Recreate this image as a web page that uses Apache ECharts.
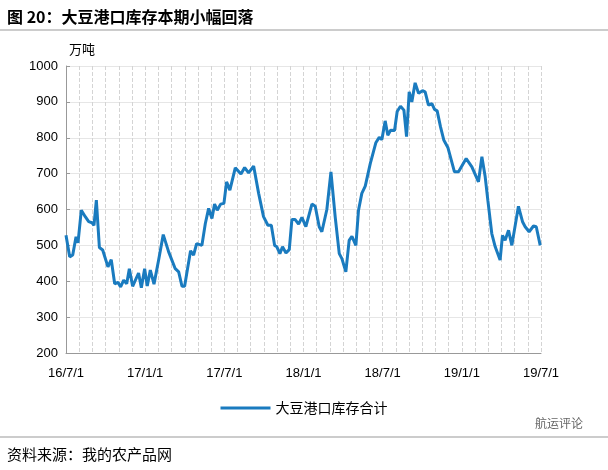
<!DOCTYPE html><html><head><meta charset="utf-8"><script src="https://cdn.jsdelivr.net/npm/echarts@6/dist/echarts.min.js"></script></head><body style="margin:0;background:#fff"><div id="c" style="width:608px;height:470px"></div><script>
const monthOffsets=[0,.28,.51,.76,.91,1.16,1.46,1.72,1.97,2.12,2.3,2.53,2.78,3.18,3.43,3.69,3.94,4.14,4.37,4.6,4.8,5.05,5.5,5.71,5.96,6.16,6.39,6.67,7.02,7.37,7.78,8.28,8.54,8.79,8.99,9.44,9.67,9.9,10.3,10.56,10.81,11.06,11.26,11.46,11.72,11.97,12.17,12.42,12.83,13.26,13.54,13.84,14.22,14.6,14.97,15.3,15.56,15.81,15.98,16.21,16.41,16.67,16.92,17.12,17.37,17.63,17.88,18.18,18.64,18.89,19.19,19.39,19.77,20.08,20.4,20.71,20.91,21.21,21.46,21.67,21.97,22.17,22.42,22.68,23.06,23.48,23.74,23.94,24.19,24.39,24.6,24.9,25.1,25.35,25.61,25.81,26.01,26.21,26.46,26.72,27.02,27.22,27.47,27.73,27.93,28.13,28.38,28.64,28.94,29.44,29.75,30.33,30.76,31.26,31.52,31.77,31.97,32.27,32.53,32.9,33.08,33.28,33.54,33.79,34.29,34.6,34.8,35.1,35.43,35.64,35.94];
const stock=[528,468,473,524,507,598,580,566,563,556,626,494,487,440,460,393,397,384,403,393,435,386,423,382,435,387,431,392,459,530,482,435,426,386,386,485,473,505,500,561,603,575,615,598,615,617,677,654,716,699,717,702,721,645,580,556,556,500,496,477,496,479,488,572,572,559,578,552,615,609,552,538,600,705,580,477,463,426,514,525,500,598,645,665,728,786,801,795,847,807,821,820,873,888,877,803,928,900,953,924,931,928,891,895,879,875,831,793,773,705,705,742,719,677,747,691,626,533,496,459,528,514,542,500,609,566,552,538,554,552,500];
const tickLabels=['16/7/1','17/1/1','17/7/1','18/1/1','18/7/1','19/1/1','19/7/1'];
const seriesName='大豆港口库存合计';
const data=monthOffsets.map((m,i)=>[m,stock[i]]);
const ch=echarts.init(document.getElementById('c'));
const F='"Noto Sans CJK SC",sans-serif';
ch.setOption({
 animation:false,
 title:[{text:'图 20：大豆港口库存本期小幅回落',left:2,top:4,textStyle:{fontFamily:F,fontSize:16,fontWeight:'bold',color:'#000'}},
  {text:'资料来源：我的农产品网',left:2,top:442,textStyle:{fontFamily:F,fontSize:15,fontWeight:'normal',color:'#000'}},
  {text:'万吨',left:64,top:38,textStyle:{fontFamily:F,fontSize:13,fontWeight:'normal',color:'#000'}},
  {text:'航运评论',left:530,top:412,textStyle:{fontFamily:F,fontSize:12,fontWeight:'normal',color:'#666'}}],
 graphic:[{type:'line',shape:{x1:0,y1:30,x2:608,y2:30},style:{stroke:'#999',lineWidth:1}},
  {type:'line',shape:{x1:0,y1:437,x2:608,y2:437},style:{stroke:'#999',lineWidth:1}}],
 legend:{data:[seriesName],top:396,left:'center',itemWidth:50,itemHeight:3,icon:'rect',textStyle:{fontFamily:F,fontSize:14,color:'#000'}},
 grid:{left:66,right:67,top:66,bottom:117},
 xAxis:{type:'value',min:0,max:36,interval:6,
  axisLabel:{formatter:v=>tickLabels[v/6],fontSize:13,color:'#000',margin:14,fontFamily:'Arial'},
  axisLine:{lineStyle:{color:'#999'}},axisTick:{show:false},
  minorTick:{show:false,splitNumber:6},
  splitLine:{show:true,lineStyle:{color:'#d4d4d4',type:'dashed'}},
  minorSplitLine:{show:true,lineStyle:{color:'#d4d4d4',type:'dashed'}}},
 yAxis:{type:'value',min:200,max:1000,interval:100,
  axisLabel:{formatter:v=>String(v),fontSize:13,color:'#000',fontFamily:'Arial'},
  axisLine:{show:true,lineStyle:{color:'#999'}},axisTick:{show:true,lineStyle:{color:'#999'},inside:true,length:4},
  splitLine:{lineStyle:{color:'#e6e6e6'}}},
 series:[{name:seriesName,type:'line',data:data,showSymbol:false,lineStyle:{color:'#1a7bbf',width:3},itemStyle:{color:'#1a7bbf'}}]
});
</script></body></html>
